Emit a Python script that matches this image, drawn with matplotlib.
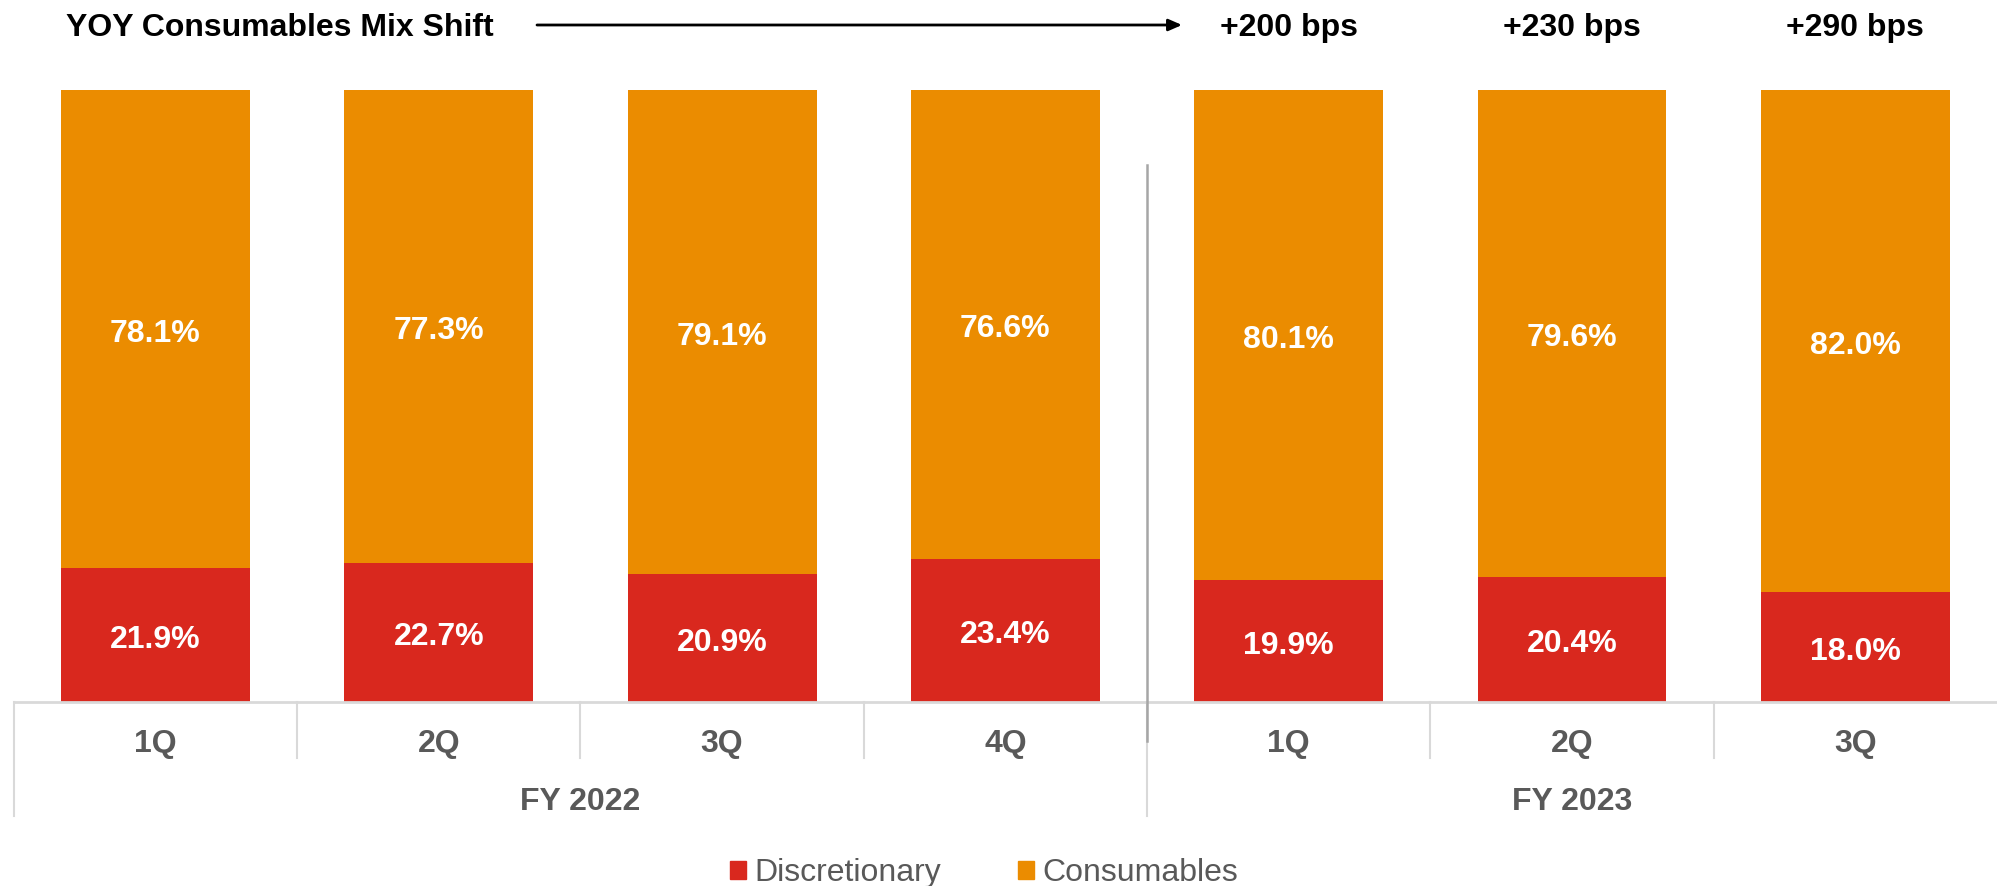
import matplotlib
matplotlib.use("Agg")
import matplotlib.pyplot as plt
from matplotlib.patches import Patch
import numpy as np

plt.rcParams['font.family'] = ['Liberation Sans', 'DejaVu Sans']

quarters = ['1Q', '2Q', '3Q', '4Q', '1Q', '2Q', '3Q']
years = ['FY 2022', 'FY 2023']
year_spans = [(0, 3), (4, 6)]
discretionary = [21.9, 22.7, 20.9, 23.4, 19.9, 20.4, 18.0]
consumables = [78.1, 77.3, 79.1, 76.6, 80.1, 79.6, 82.0]
shift_labels = ['+200 bps', '+230 bps', '+290 bps']
shift_idx = [4, 5, 6]

RED = '#D9281E'
ORANGE = '#EB8C00'
GRAY_TXT = '#595959'
LINE = '#D9D9D9'

W, H = 1997, 886
fig = plt.figure(figsize=(W / 100, H / 100), dpi=100)
# axes placed in pixel terms: baseline at y=702, top at y=90
ax = fig.add_axes([13.7 / W, (H - 702) / H, 1 - 13.7 / W, 612 / H])
x = np.arange(len(quarters))

ax.bar(x, discretionary, width=0.667, color=RED, linewidth=0)
ax.bar(x, consumables, width=0.667, bottom=discretionary, color=ORANGE, linewidth=0)

dy = 0.8  # nudge labels down a few pixels
for i in range(len(x)):
    ax.text(x[i], discretionary[i] / 2 - dy, f'{discretionary[i]:.1f}%', ha='center', va='center',
            color='white', fontsize=23, fontweight='bold')
    ax.text(x[i], discretionary[i] + consumables[i] / 2 - dy, f'{consumables[i]:.1f}%', ha='center',
            va='center', color='white', fontsize=23, fontweight='bold')

ax.set_xlim(-0.5, 6.5)
ax.set_ylim(0, 100)
ax.axis('off')

tr = ax.get_xaxis_transform()
# baseline
ax.plot([-0.5, 6.5], [0, 0], color=LINE, lw=2, transform=tr, clip_on=False)
# category separators
for s in [0.5, 1.5, 2.5, 4.5, 5.5]:
    ax.plot([s, s], [0, -0.0915], color=LINE, lw=1.5, transform=tr, clip_on=False)
# group separators
for s in [-0.5, 3.5]:
    ax.plot([s, s], [0, -0.186], color=LINE, lw=1.5, transform=tr, clip_on=False)
# dark divider between years
ax.plot([3.5, 3.5], [0.877, -0.064], color='#A6A6A6', lw=1.8, transform=tr, clip_on=False)

for i, q in enumerate(quarters):
    ax.text(x[i], -0.068, q, ha='center', va='center', color=GRAY_TXT, fontsize=23,
            fontweight='bold', transform=tr)
for yl, (a, b) in zip(years, year_spans):
    ax.text((a + b) / 2, -0.164, yl, ha='center', va='center', color=GRAY_TXT, fontsize=23,
            fontweight='bold', transform=tr)

for lbl, i in zip(shift_labels, shift_idx):
    ax.text(x[i], 1.101, lbl, ha='center', va='center', color='black', fontsize=23,
            fontweight='bold', transform=tr)

fig.text(66 / W, 1 - 28 / H, 'YOY Consumables Mix Shift', ha='left', va='center',
         fontsize=23, fontweight='bold', color='black')
ax.annotate('', xy=(1182 / W, 1 - 25 / H), xytext=(537 / W, 1 - 25 / H),
            xycoords='figure fraction', textcoords='figure fraction',
            arrowprops=dict(arrowstyle='-|>,head_length=0.8,head_width=0.35', color='black', lw=2,
                            shrinkA=0, shrinkB=0))

handles = [Patch(color=RED, label='Discretionary'), Patch(color=ORANGE, label='Consumables')]
leg = fig.legend(handles=handles, loc='center', bbox_to_anchor=(984 / W, 1 - 873 / H), ncol=2,
                 frameon=False, fontsize=23, handlelength=0.5, handleheight=0.5,
                 handletextpad=0.27, columnspacing=2.4, borderpad=0)
for t in leg.get_texts():
    t.set_color(GRAY_TXT)

fig.savefig('out.png', dpi=100)
